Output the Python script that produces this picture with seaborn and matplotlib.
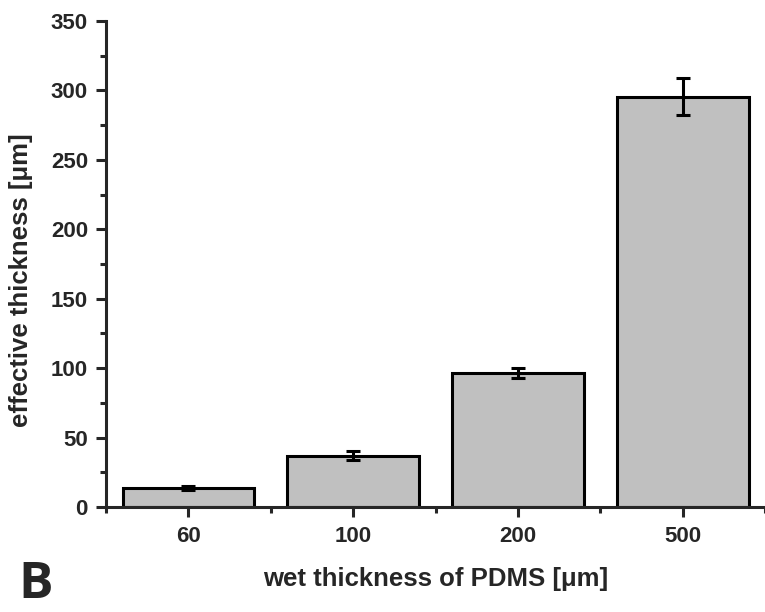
import matplotlib
matplotlib.use("Agg")
import matplotlib.pyplot as plt
import seaborn as sns
import pandas as pd
from matplotlib.ticker import MultipleLocator, FixedLocator

# wet vs effective thickness of PDMS
wet = ["60", "100", "200", "500"]
effective = [13.5, 37.0, 96.5, 295.5]
err = [1.5, 3.5, 3.6, 13.2]

df = pd.DataFrame({"wet": wet, "effective": effective})

sns.set_style("ticks")
plt.rcParams["font.family"] = ["Liberation Sans", "DejaVu Sans"]
plt.rcParams["font.weight"] = "bold"

fig = plt.figure(figsize=(7.65, 6.12), dpi=100)
ax = fig.add_axes([0.1386, 0.1716, 0.8614, 0.794])

sns.barplot(data=df, x="wet", y="effective", order=wet, color="#c0c0c0",
            saturation=1, width=0.8, edgecolor="black", linewidth=2.2,
            errorbar=None, ax=ax)

# error bars at bar centres
xs = [p.get_x() + p.get_width() / 2 for p in ax.patches]
ax.errorbar(xs, effective, yerr=err, fmt="none", ecolor="black",
            elinewidth=2.2, capsize=5, capthick=2.2, zorder=5)

ax.set_xlim(-0.5, 3.5)
ax.set_ylim(0, 350)
ax.yaxis.set_major_locator(MultipleLocator(50))
ax.yaxis.set_minor_locator(MultipleLocator(25))
ax.xaxis.set_minor_locator(FixedLocator([-0.5, 0.5, 1.5, 2.5, 3.5]))

sns.despine(ax=ax)
for s in ["left", "bottom"]:
    ax.spines[s].set_linewidth(2.2)

ax.tick_params(which="major", length=7, width=2.2, labelsize=16, pad=6)
ax.tick_params(which="minor", length=4.5, width=2.2)
ax.tick_params(axis="x", which="major", pad=7)
for lab in ax.get_xticklabels() + ax.get_yticklabels():
    lab.set_fontweight("bold")

ax.set_xlabel("wet thickness of PDMS [μm]", fontsize=18.5, fontweight="bold", labelpad=14)
ax.set_ylabel("effective thickness [μm]", fontsize=18.5, fontweight="bold")
ax.yaxis.set_label_coords(-0.111, 0.467)

fig.text(0.024, 2 / 612, "B", fontsize=37, fontweight="bold",
         family=["Open Sans", "DejaVu Sans"], ha="left", va="bottom")

fig.savefig("out.png", dpi=100)
